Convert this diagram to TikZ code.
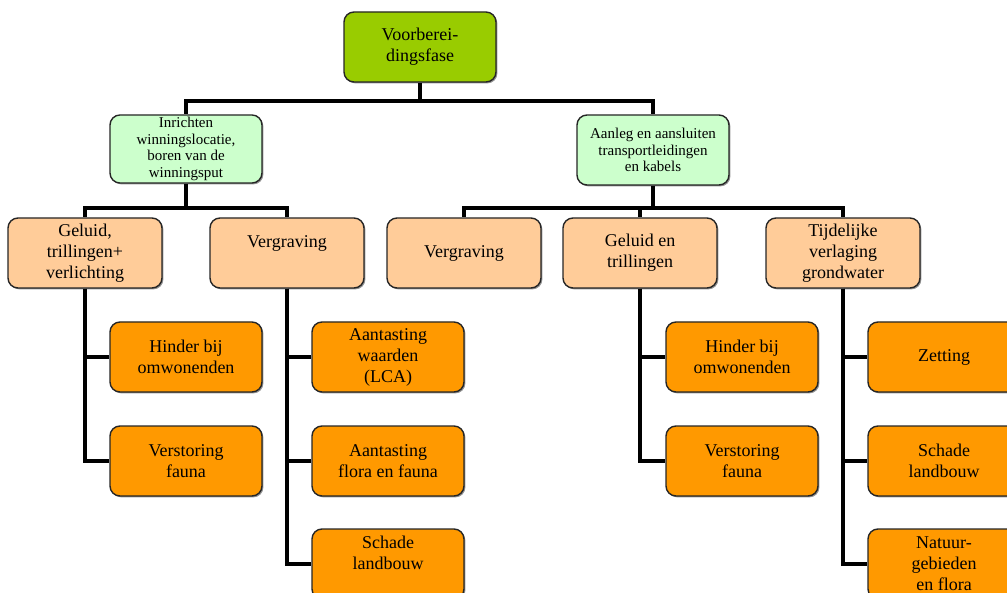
\documentclass[tikz,border=0pt]{standalone}
\usepackage{fontspec}
\setmainfont{Liberation Serif}
\usetikzlibrary{positioning, calc, shadows}

\definecolor{fasegreen}{HTML}{99CC00}
\definecolor{deelgreen}{HTML}{CCFFCC}
\definecolor{activpeach}{HTML}{FFCC99}
\definecolor{effectorange}{HTML}{FF9900}

\tikzset{
	box/.style={draw=black!85, line width=0.7pt, rounded corners=5pt, minimum width=76pt, minimum height=35pt,
		align=center, inner sep=1pt, font=\fontsize{9}{10.5}\selectfont,
		drop shadow={shadow xshift=0.7pt, shadow yshift=-0.7pt, opacity=0.6, fill=black!70}},
	fase/.style={box, fill=fasegreen},
	deel/.style={box, fill=deelgreen, font=\fontsize{7.5}{8.4}\selectfont},
	activ/.style={box, fill=activpeach},
	effect/.style={box, fill=effectorange},
	bus/.style={line width=2pt}
}

\begin{document}
\begin{tikzpicture}[x=0.5pt, y=-0.5pt]
\useasboundingbox (0,0) rectangle (1007,593);
\clip (0,0) rectangle (1007,593);
\node[fase] (fase) at (420,47) {Voorberei-\\dingsfase};
\node[deel, minimum height=34pt] (inricht) at (186,149) {Inrichten\\winningslocatie,\\boren van de\\winningsput};
\node[deel] (aanleg) at (653,150) {Aanleg en aansluiten\\transportleidingen\\en kabels};
\foreach \n/\x/\t in {geluidA/85/{Geluid,\\trillingen+\\verlichting},
	vergravB/464/Vergraving, geluidB/640/{Geluid en\\trillingen}, verlag/843/{Tijdelijke\\verlaging\\grondwater}}
	\node[activ, minimum width=77pt] (\n) at (\x,253) {\t};
\node[activ, minimum width=77pt, text depth=11pt] (vergravA) at (287,253) {Vergraving};
\foreach \n/\x/\y/\t in {hinderA/186/357/{Hinder bij\\omwonenden}, verstA/186/461/{Verstoring\\fauna},
	aantW/388/357/{Aantasting\\waarden\\(LCA)}, aantF/388/461/{Aantasting\\flora en fauna},
	hinderB/742/357/{Hinder bij\\omwonenden}, verstB/742/461/{Verstoring\\fauna},
	zetting/944/357/Zetting, schadeB/944/461/{Schade\\landbouw}}
	\node[effect] (\n) at (\x,\y) {\t};
\node[effect, text depth=11pt] (schadeA) at (388,564) {Schade\\landbouw};
\node[effect] (natuur) at (944,564) {Natuur-\\gebieden\\en flora};
\draw[bus] (fase.south) -- ++(0,18) coordinate (busA) -| (inricht.north);
\draw[bus] (busA) -| (aanleg.north);
\draw[bus] (inricht.south) -- ++(0,24) coordinate (busB) -| (geluidA.north);
\draw[bus] (busB) -| (vergravA.north);
\draw[bus] (aanleg.south) -- ++(0,22) coordinate (busC) -| (vergravB.north);
\draw[bus] (busC) -| (geluidB.north);
\draw[bus] (busC) -| (verlag.north);
\foreach \p/\c in {geluidA/hinderA, geluidA/verstA, vergravA/aantW, vergravA/aantF, vergravA/schadeA,
	geluidB/hinderB, geluidB/verstB, verlag/zetting, verlag/schadeB, verlag/natuur}
	\draw[bus] (\p.south) |- (\c.west);
\end{tikzpicture}
\end{document}
